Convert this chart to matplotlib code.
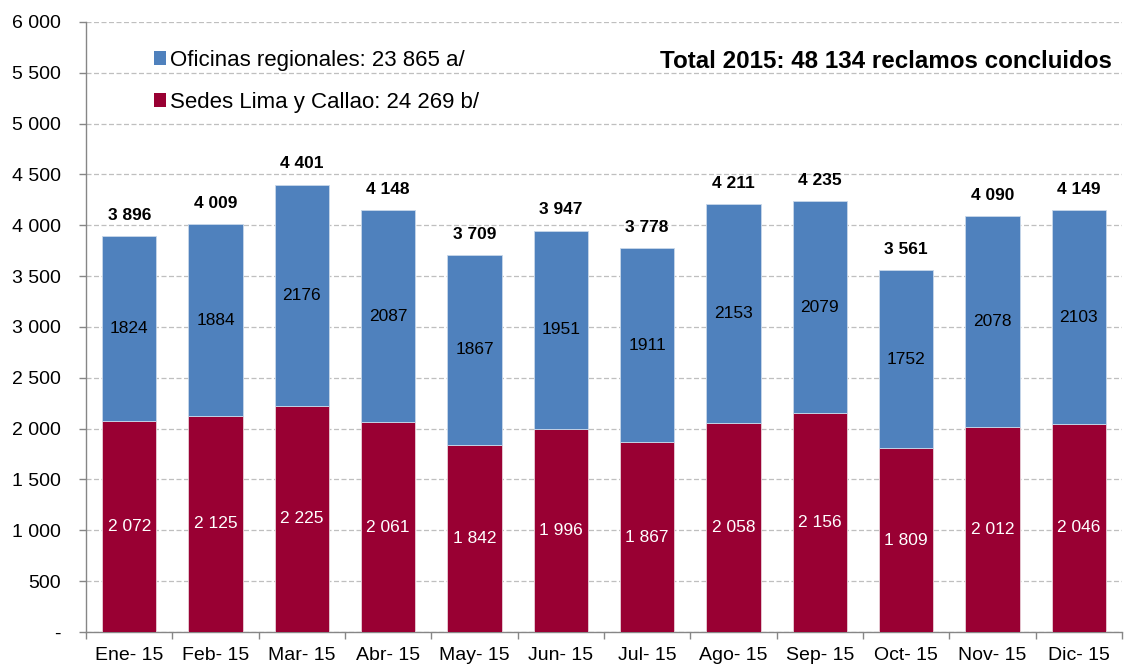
import matplotlib
matplotlib.use("Agg")
import matplotlib.pyplot as plt
from matplotlib.patches import Patch
import numpy as np

months = ["Ene- 15", "Feb- 15", "Mar- 15", "Abr- 15", "May- 15", "Jun- 15",
          "Jul- 15", "Ago- 15", "Sep- 15", "Oct- 15", "Nov- 15", "Dic- 15"]
lima = [2072, 2125, 2225, 2061, 1842, 1996, 1867, 2058, 2156, 1809, 2012, 2046]
regional = [1824, 1884, 2176, 2087, 1867, 1951, 1911, 2153, 2079, 1752, 2078, 2103]
totals = [3896, 4009, 4401, 4148, 3709, 3947, 3778, 4211, 4235, 3561, 4090, 4149]
legend_labels = ["Oficinas regionales: 23 865 a/", "Sedes Lima y Callao: 24 269 b/"]
title = "Total 2015: 48 134 reclamos concluidos"

def fmt(v):
    return f"{v:,}".replace(",", " ")

plt.rcParams['font.family'] = ['Liberation Sans', 'DejaVu Sans']

blue = "#4F81BD"
red = "#990033"

fig = plt.figure(figsize=(11.26, 6.65), dpi=100)
ax = fig.add_axes([0.0764, 0.0496, 0.92, 0.9174])

x = np.arange(len(months))
w = 0.63
ax.bar(x, lima, w, color=red, edgecolor="#e8d0d8", linewidth=0.6, zorder=3)
ax.bar(x, regional, w, bottom=lima, color=blue, edgecolor="#c8d8ea", linewidth=0.6, zorder=3)

for i in range(len(months)):
    ax.text(x[i], lima[i] / 2, fmt(lima[i]), ha="center", va="center",
            color="white", fontsize=12.5, zorder=4)
    ax.text(x[i], lima[i] + regional[i] / 2, str(regional[i]), ha="center", va="center",
            color="black", fontsize=12.5, zorder=4)
    ax.text(x[i], totals[i] + 130, fmt(totals[i]), ha="center", va="bottom",
            color="black", fontsize=12.5, fontweight="bold", zorder=4)

ax.set_xlim(-0.5, len(months) - 0.5)
ax.set_ylim(0, 6000)
yt = np.arange(0, 6001, 500)
ax.set_yticks(yt)
ax.set_yticklabels(["-" if v == 0 else fmt(int(v)) for v in yt], fontsize=14)
ax.yaxis.grid(True, linestyle=(0, (4, 2)), color="#bfbfbf", linewidth=0.9, zorder=0)
ax.set_axisbelow(True)

ax.set_xticks(x)
ax.set_xticklabels(months, fontsize=14)
ax.tick_params(axis="x", which="major", length=0, pad=11)
ax.set_xticks(np.arange(-0.5, len(months)), minor=True)
ax.tick_params(axis="x", which="minor", length=5, color="#868686", width=1)
ax.tick_params(axis="y", length=5, color="#868686", width=1, pad=13)

for s in ["top", "right"]:
    ax.spines[s].set_visible(False)
for s in ["left", "bottom"]:
    ax.spines[s].set_color("#868686")
    ax.spines[s].set_linewidth(1)

handles = [Patch(facecolor=blue, edgecolor="none"), Patch(facecolor=red, edgecolor="none")]
ax.legend(handles, legend_labels, loc="upper left", bbox_to_anchor=(0.046, 0.987),
          frameon=False, fontsize=16, handlelength=0.55, handleheight=0.55,
          handletextpad=0.2, labelspacing=0.95)

ax.text(0.99, 0.935, title, transform=ax.transAxes, ha="right", va="center",
        fontsize=17.4, fontweight="bold")

fig.savefig("out.png", dpi=100)
